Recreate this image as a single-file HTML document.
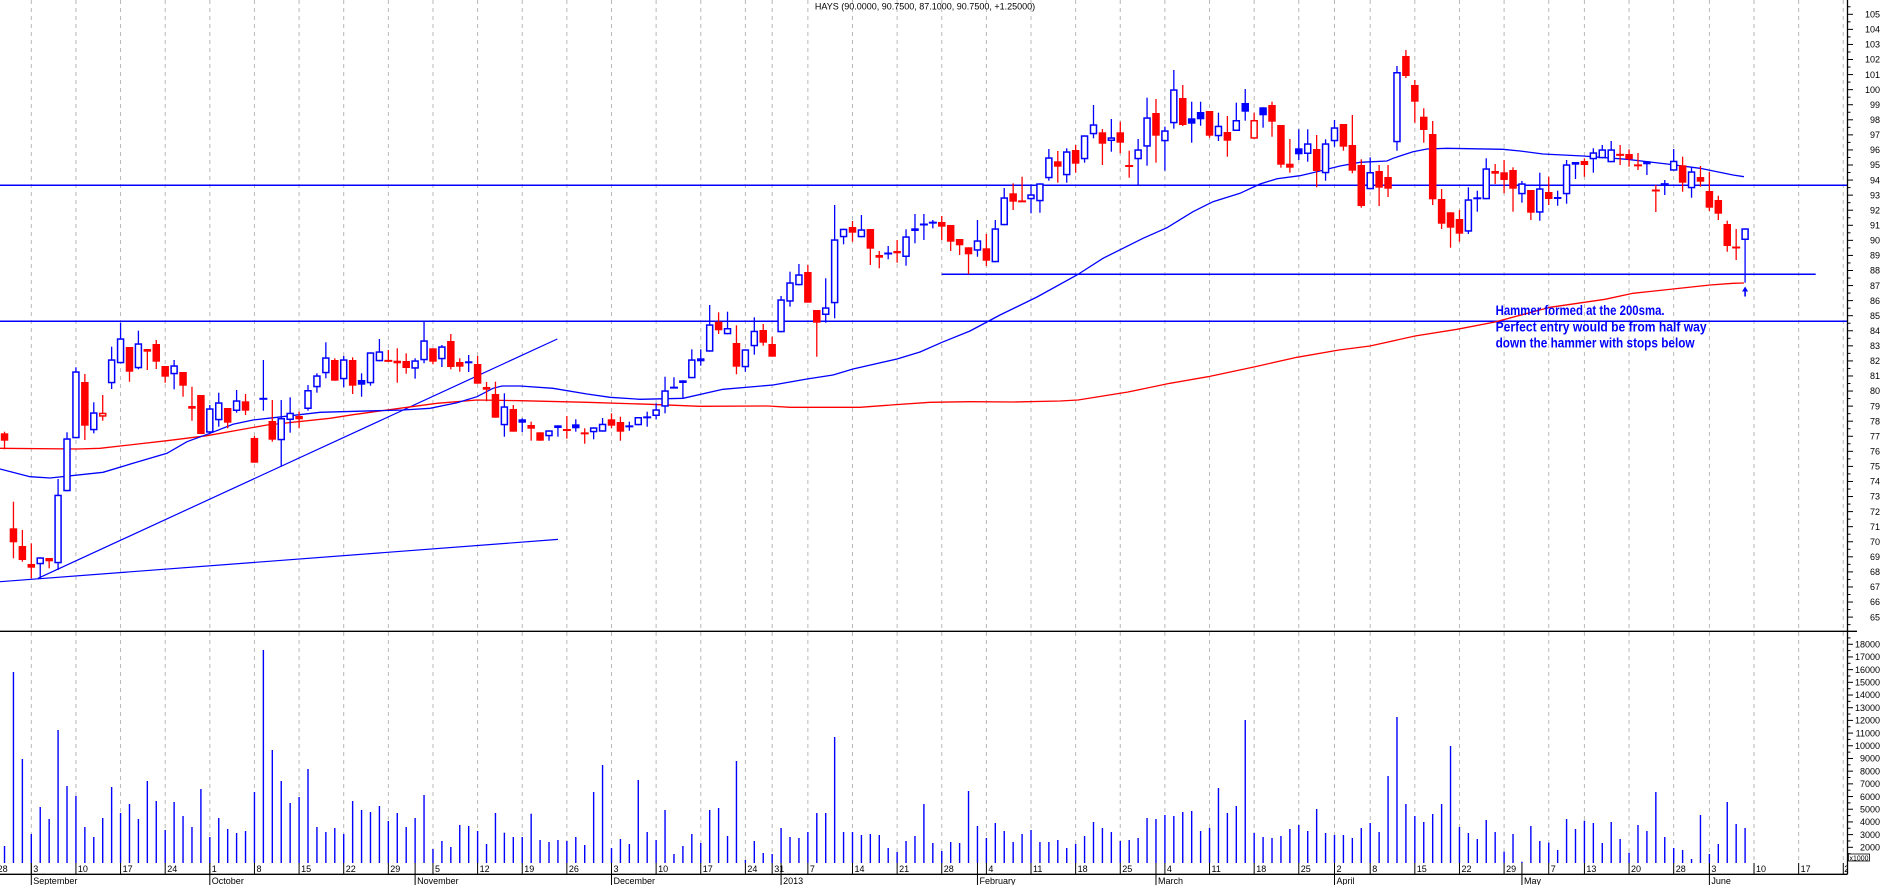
<!DOCTYPE html>
<html>
<head>
<meta charset="utf-8">
<style>
html,body{margin:0;padding:0;background:#fff;overflow:hidden;}
svg{display:block;}
text{font-family:"Liberation Sans",Arial,sans-serif;}
</style>
</head>
<body>
<svg id="c" xmlns="http://www.w3.org/2000/svg" width="1883" height="885" viewBox="0 0 1883 885">
<defs>
<clipPath id="clipL"><rect x="0" y="0" width="1847" height="885"/></clipPath>
</defs>
<rect width="1883" height="885" fill="#fff"/>
<g id="grid"></g>
<g id="lines"></g>
<g id="candles"></g>
<g id="vol"></g>
<g id="axes"></g>

<text x="925" y="9.5" font-size="9" text-anchor="middle" fill="#000">HAYS (90.0000, 90.7500, 87.1000, 90.7500, +1.25000)</text>

<g font-size="14" font-weight="bold" fill="#0000ff">
<text x="1495.6" y="315" textLength="169" lengthAdjust="spacingAndGlyphs">Hammer formed at the 200sma.</text>
<text x="1495.6" y="331.5" textLength="211" lengthAdjust="spacingAndGlyphs">Perfect entry would be from half way</text>
<text x="1495.6" y="347.5" textLength="199" lengthAdjust="spacingAndGlyphs">down the hammer with stops below</text>
</g>

<g font-size="9" text-anchor="end" fill="#000">
<text x="1880" y="17.5">105</text>
<text x="1880" y="32.6">104</text>
<text x="1880" y="47.6">103</text>
<text x="1880" y="62.7">102</text>
<text x="1880" y="77.8">101</text>
<text x="1880" y="92.9">100</text>
<text x="1880" y="107.9">99</text>
<text x="1880" y="123.0">98</text>
<text x="1880" y="138.1">97</text>
<text x="1880" y="153.1">96</text>
<text x="1880" y="168.2">95</text>
<text x="1880" y="183.3">94</text>
<text x="1880" y="198.3">93</text>
<text x="1880" y="213.4">92</text>
<text x="1880" y="228.5">91</text>
<text x="1880" y="243.6">90</text>
<text x="1880" y="258.6">89</text>
<text x="1880" y="273.7">88</text>
<text x="1880" y="288.8">87</text>
<text x="1880" y="303.8">86</text>
<text x="1880" y="318.9">85</text>
<text x="1880" y="334.0">84</text>
<text x="1880" y="349.0">83</text>
<text x="1880" y="364.1">82</text>
<text x="1880" y="379.2">81</text>
<text x="1880" y="394.2">80</text>
<text x="1880" y="409.3">79</text>
<text x="1880" y="424.4">78</text>
<text x="1880" y="439.5">77</text>
<text x="1880" y="454.5">76</text>
<text x="1880" y="469.6">75</text>
<text x="1880" y="484.7">74</text>
<text x="1880" y="499.7">73</text>
<text x="1880" y="514.8">72</text>
<text x="1880" y="529.9">71</text>
<text x="1880" y="544.9">70</text>
<text x="1880" y="560.0">69</text>
<text x="1880" y="575.1">68</text>
<text x="1880" y="590.1">67</text>
<text x="1880" y="605.2">66</text>
<text x="1880" y="620.3">65</text>

<text x="1880" y="647.5">18000</text>
<text x="1880" y="660.2">17000</text>
<text x="1880" y="672.9">16000</text>
<text x="1880" y="685.5">15000</text>
<text x="1880" y="698.2">14000</text>
<text x="1880" y="710.9">13000</text>
<text x="1880" y="723.6">12000</text>
<text x="1880" y="736.3">11000</text>
<text x="1880" y="749.0">10000</text>
<text x="1880" y="761.7">9000</text>
<text x="1880" y="774.4">8000</text>
<text x="1880" y="787.1">7000</text>
<text x="1880" y="799.8">6000</text>
<text x="1880" y="812.4">5000</text>
<text x="1880" y="825.1">4000</text>
<text x="1880" y="837.8">3000</text>
</g>
<text x="1880" y="850.5" font-size="9" text-anchor="end" fill="#000">2000</text>
<rect x="1848.5" y="854" width="21" height="7" fill="#fff" stroke="#000" stroke-width="0.8"/>
<text x="1849.5" y="860.3" font-size="7" fill="#000" textLength="19" lengthAdjust="spacingAndGlyphs">x1000</text>

<g font-size="9" fill="#000" clip-path="url(#clipL)">
<text x="-2.4" y="872">28</text>
<text x="33.3" y="872">3</text>
<text x="77.9" y="872">10</text>
<text x="122.6" y="872">17</text>
<text x="167.2" y="872">24</text>
<text x="211.8" y="872">1</text>
<text x="256.5" y="872">8</text>
<text x="301.1" y="872">15</text>
<text x="345.7" y="872">22</text>
<text x="390.3" y="872">29</text>
<text x="435.0" y="872">5</text>
<text x="479.6" y="872">12</text>
<text x="524.2" y="872">19</text>
<text x="568.9" y="872">26</text>
<text x="613.5" y="872">3</text>
<text x="658.1" y="872">10</text>
<text x="702.8" y="872">17</text>
<text x="747.4" y="872">24</text>
<text x="774.2" y="872">31</text>
<text x="809.9" y="872">7</text>
<text x="854.5" y="872">14</text>
<text x="899.1" y="872">21</text>
<text x="943.8" y="872">28</text>
<text x="988.4" y="872">4</text>
<text x="1033.0" y="872">11</text>
<text x="1077.6" y="872">18</text>
<text x="1122.3" y="872">25</text>
<text x="1166.9" y="872">4</text>
<text x="1211.5" y="872">11</text>
<text x="1256.2" y="872">18</text>
<text x="1300.8" y="872">25</text>
<text x="1336.5" y="872">2</text>
<text x="1372.2" y="872">8</text>
<text x="1416.8" y="872">15</text>
<text x="1461.5" y="872">22</text>
<text x="1506.1" y="872">29</text>
<text x="1550.7" y="872">7</text>
<text x="1586.4" y="872">13</text>
<text x="1631.0" y="872">20</text>
<text x="1675.7" y="872">28</text>
<text x="1711.4" y="872">3</text>
<text x="1756.0" y="872">10</text>
<text x="1800.6" y="872">17</text>
<text x="1844.3" y="872">2</text>

<text x="33.3" y="884">September</text>
<text x="211.8" y="884">October</text>
<text x="417.1" y="884">November</text>
<text x="613.5" y="884">December</text>
<text x="783.1" y="884">2013</text>
<text x="979.5" y="884">February</text>
<text x="1158.0" y="884">March</text>
<text x="1336.5" y="884">April</text>
<text x="1524.0" y="884">May</text>
<text x="1711.4" y="884">June</text>
</g>
</svg>

<script>
(function(){
var NS='http://www.w3.org/2000/svg';
function X(i){return 31.3+i*8.926;}
function el(tag,a,p){var e=document.createElementNS(NS,tag);for(var k in a)e.setAttribute(k,a[k]);p.appendChild(e);return e;}
var grid=document.getElementById('grid'),lines=document.getElementById('lines'),
    cg=document.getElementById('candles'),vg=document.getElementById('vol'),ax=document.getElementById('axes');

var weeks=[-4,0,5,10,15,20,25,30,35,40,45,50,55,60,65,70,75,80,83,87,92,97,102,107,112,117,122,127,132,137,142,146,150,155,160,165,170,174,179,184,188,193,198,203];
var months=[0,20,43,65,84,106,126,146,167,188];
weeks.forEach(function(i){
  var x=X(i);
  el('line',{x1:x,y1:0,x2:x,y2:863,stroke:'#b8b8b8','stroke-width':1,'stroke-dasharray':'4 4'},grid);
  el('line',{x1:x,y1:863,x2:x,y2:874,stroke:'#000','stroke-width':1},ax);
});
months.forEach(function(i){
  var x=X(i);
  el('line',{x1:x,y1:863,x2:x,y2:885,stroke:'#000','stroke-width':1},ax);
});

// axes lines
el('line',{x1:0,y1:631.3,x2:1857,y2:631.3,stroke:'#000','stroke-width':1.3},ax);
el('line',{x1:0,y1:874.3,x2:1847.5,y2:874.3,stroke:'#000','stroke-width':1.3},ax);
el('line',{x1:1847.5,y1:0,x2:1847.5,y2:874.3,stroke:'#000','stroke-width':1.3},ax);
function py(p){return 14.3+(105-p)*15.07;}
for(var p=64.5;p<=105.6;p+=0.5){
  var y=py(p);if(y<0||y>630)continue;
  var major=Math.abs(p-Math.round(p))<0.01;
  el('line',{x1:1847.5,y1:y,x2:major?1853:1850.5,y2:y,stroke:'#000','stroke-width':1},ax);
}
function vy(v){return 847.3-(v-2000)*0.01269;}
for(var v=1500;v<=18500;v+=500){
  var y2=vy(v);
  var mj=(v%1000)==0;
  el('line',{x1:1847.5,y1:y2,x2:mj?1853:1850.5,y2:y2,stroke:'#000','stroke-width':1},ax);
}

// horizontal lines
el('line',{x1:0,y1:185.3,x2:1847,y2:185.3,stroke:'#0000ff','stroke-width':1.5},lines);
el('line',{x1:0,y1:321.3,x2:1847,y2:321.3,stroke:'#0000ff','stroke-width':1.5},lines);
el('line',{x1:941.7,y1:274.2,x2:1815.7,y2:274.2,stroke:'#0000ff','stroke-width':1.5},lines);
// trend lines
el('line',{x1:38,y1:578.3,x2:557.3,y2:339,stroke:'#0000ff','stroke-width':1.2},lines);
el('line',{x1:0,y1:581.7,x2:558,y2:539.4,stroke:'#0000ff','stroke-width':1.2},lines);

var blue=[[0,469],[30,476.7],[50,478],[103,472.3],[133,463.3],[167,453.3],[187,441.7],[210,433.3],[233,424.3],[253,420],[277,417.3],[320,412.3],[403,410],[430,408.3],[457,402.7],[477,396.7],[493,388.3],[502,386],[520,386],[553,388.3],[587,394],[610,397.3],[640,399.3],[683,398.3],[723,389.3],[773,385],[807,379],[833,375],[853,369],[897,359],[920,352],[942,342.3],[970,331],[1000,315],[1037,297],[1077,275],[1103,258.3],[1143,238.3],[1167,227.7],[1193,211.7],[1213,201.7],[1240,193.3],[1260,184],[1277,178.7],[1300,175.7],[1320,171],[1340,166],[1360,162.3],[1387,161],[1393,158.3],[1413,151.7],[1427,149],[1447,148.3],[1503,149.3],[1520,151],[1543,154],[1583,156],[1627,159.3],[1667,164],[1700,168.3],[1733,175],[1744,176.7]];
var red=[[0,448.3],[77,449],[100,448.3],[167,440.7],[207,435.7],[267,425],[330,418.3],[353,414.7],[387,410],[407,407.3],[437,403.3],[477,400],[520,400.7],[587,402.3],[650,404.3],[700,406.3],[768,406],[790,407.3],[860,407.3],[887,405.3],[930,402.3],[970,401.7],[1013,402],[1060,401],[1078,400],[1128,392],[1170,383.3],[1208,376.7],[1255,366.7],[1297,357.3],[1339,350],[1370,346],[1415,336],[1457,329.3],[1495,322],[1550,307.3],[1605,299.3],[1633,293.3],[1673,289],[1710,285],[1733,283.3],[1744,283]];
function pl(pts,col){el('polyline',{points:pts.map(function(q){return q[0]+','+q[1];}).join(' '),fill:'none',stroke:col,'stroke-width':1.3},lines);}
pl(red,'#ff0000');pl(blue,'#0000ff');

var C=[
[-3,'R',433.3,440.7,431.7,449.3],[-2,'R',528.3,542.3,501.7,558.3],[-1,'R',546,560,530,561.7],[0,'R',564,567.7,543.3,578.3],
[1,'b',557.3,564.3,557.3,578.3],[2,'R',558,561.3,558,568.3],[3,'b',494.7,563.3,479,570],[4,'b',438.3,491.3,432.3,491.3],
[5,'b',371.3,438.3,367.3,438.3],[6,'R',382,425.7,374,440],[7,'b',412.3,430.3,402.3,433.3],[8,'r',412.7,416.7,395,420.7],
[9,'b',359.3,383.3,346.7,389],[10,'b',338.3,363.3,322.7,363.3],[11,'R',347,371.7,347,381.7],[12,'b',343.3,368.3,330.7,369.3],
[13,'R',349,351.7,349,370],[14,'R',344,361.7,340,369],[15,'R',366,376.7,366,382.7],[16,'b',365.3,374.3,360,389.3],
[17,'R',372,385.7,372,396.7],[18,'R',406,408.7,386.7,420.7],[19,'R',395,434,395,434],[20,'b',408.3,432.7,405,433.3],
[21,'b',402.3,420.3,392.7,426.7],[22,'R',408,422.7,408,428.3],[23,'b',400.3,411,390,412.7],[24,'R',401.3,410.7,394,415],
[25,'R',438,462.7,436,462.7],[26,'B',398.3,399.3,360,410.7],[27,'R',421,439.7,400,441.7],[28,'b',418,440.3,400,466.7],
[29,'b',412.7,420,397.3,432.7],[30,'R',416,419.3,411.7,428.3],[31,'b',390,409,385,410.7],[32,'b',375.3,387.3,373.3,392.7],
[33,'b',357.3,373.3,342.3,378.3],
[34,'R',360,380.7,358.3,380.7],[35,'b',359.3,379.3,356,387.3],[36,'R',360,385.7,357.3,394],[37,'B',380,384.7,373.3,396.7],
[38,'b',352.3,383.3,352.3,385.7],[39,'b',351.3,361.3,339,361.3],[40,'R',360,361.7,350,361.7],[41,'r',360.7,363.3,348.3,382.7],
[42,'R',361,368,353.3,373.7],[43,'b',360.3,368.7,358.3,378.7],[44,'b',340.3,360.3,321.7,363.3],[45,'R',348.3,361.7,348.3,364.3],
[46,'b',346.3,359.3,345,367],[47,'R',341,367,334,369.3],[48,'R',362,366.7,358.3,371.7],[49,'b',361.3,363.3,355,372],
[50,'R',364,383.7,356,383.7],[51,'R',387,389.7,382,401.3],[52,'R',394,417.7,381.7,417.7],[53,'b',406.3,425.3,393.3,436.7],
[54,'R',409,431.7,405,431.7],[55,'B',419.3,422.7,418.3,432],[56,'R',425,428.7,421.7,440.7],[57,'R',432.3,440.7,432.3,440.7],
[58,'b',430.3,436.3,430.3,440.7],[59,'b',425.3,428,425.3,436.7],[60,'R',429.3,430.7,416,438.7],[61,'B',424.3,428.3,419.3,431.7],
[62,'R',433,433.7,428.3,443.7],[63,'b',427.3,432.3,427.3,439.3],[64,'b',423.7,431.7,418,431.7],[65,'R',419.3,425.7,413.3,428.3],
[66,'R',422,431.7,416.7,440.7],[67,'B',426,426.7,421.7,430.7],[68,'b',417,425.3,417,425.3],[69,'B',417,417.7,411.7,426.7],
[70,'b',409.3,416,403.3,419.3],[71,'b',390.3,406.7,376.7,413.3],[72,'B',387.3,388,377.3,388.3],[73,'b',380.3,383,380.3,398.3],
[74,'b',359.3,378.3,349.3,378.3],[75,'b',358.3,361.3,349.3,365.7],[76,'b',324.3,351.7,305,351.7],[77,'R',321.7,330.3,312.3,334],
[78,'b',328,334.3,311.7,334.3],[79,'R',343,366.7,325.3,374.3],[80,'b',349.3,367.3,349.3,371.7],[81,'b',330.7,346.3,317.3,354.7],
[82,'R',330,342.7,324,345.7],[83,'R',344,356.7,336.7,356.7],[84,'b',299.3,332.3,296,332.3],[85,'b',282.3,301.7,271.7,306.7],
[86,'b',274.3,285.3,264,285.3],[87,'R',272,302.7,265,302.7],[88,'R',310,322.7,310,356.7],[89,'b',307.3,315,278.3,322.7],
[90,'b',239.3,303.3,205,318.3],[91,'b',228.7,237.3,228.7,244.3],[92,'R',227,232.7,221,241.7],[93,'b',229.3,237.3,215,237.3],
[94,'R',229,248.7,229,265],[95,'R',255,257.7,251,268.3],[96,'B',253,254,246,259.3],[97,'R',251,253.3,240,262.7],
[98,'b',236.3,257,229.3,265.7],[99,'b',228.3,231,214,243.3],[100,'B',224,225,214,240],[101,'B',222,223.3,220,228.3],
[102,'R',222,226.7,216,240],[103,'R',225,241.7,225,251],[104,'R',239,245.3,239,255],[105,'R',247.3,254.3,247.3,274.3],
[106,'b',240.3,250.7,220,256.7],[107,'R',248.3,260.7,234,266],[108,'b',228.3,262.3,220,262.3],[109,'b',197.3,225.3,188,225.3],
[110,'R',193.3,201.7,183.3,210],[111,'R',201,201.7,176.7,201.7],[112,'b',194.3,199.3,184.3,213.3],[113,'b',183.3,201.3,183.3,212.7],
[114,'b',157.3,178.3,149,180.7],[115,'R',161.3,166.7,151,182.7],[116,'b',151.3,175.3,148.3,182.7],[117,'R',150,163.7,145,172.7],
[118,'b',135.3,159.3,135.3,162.7],[119,'b',124.3,134.3,105,138.3],[120,'R',132.3,143.7,129,165],[121,'b',137.3,141,119,151.7],
[122,'R',132.3,142.7,121.7,153.3],[123,'R',165.7,166.3,150.7,177.7],[124,'b',149.3,159.3,139,185.3],[125,'b',117.3,146.7,97.7,165.7],
[126,'R',113,135.7,99,162.7],[127,'b',130.3,141.3,126.7,170.7],[128,'b',89.3,123.3,70,128.7],[129,'R',98,125,85,126],
[130,'B',118.3,123.7,101.7,142.7],[131,'B',112,119.3,101.7,125.7],[132,'R',111,135.7,111,137.7],[133,'b',125.7,136.3,112.7,141],
[134,'R',132,140.7,116,156.7],[135,'b',120,131,102.7,131],[136,'B',103,111.7,89,120.7],[137,'r',120,138.7,112.7,138.7],
[138,'B',107.3,115.3,107.3,127.7],[139,'R',105,121.7,101.7,136.7],[140,'R',125,164.7,125,167.7],[141,'R',163.7,167.7,139,172.7],
[142,'B',148.3,154.3,129.3,160],[143,'b',143.3,154,129.3,161.7],[144,'R',149,171,135,187.3],[145,'b',143.3,173.3,139.3,180.7],
[146,'b',127.3,141.3,120,146.7],[147,'R',124,146.7,124,150.7],[148,'R',145,170.7,115,173.3],[149,'R',165,206,159.3,207.7],
[150,'b',172,189.3,157.3,189.3],[151,'R',171,187.7,165,206],[152,'R',177,188.7,165,197],[153,'b',72,142.3,66,150.7],
[154,'R',56,76,50,78],[155,'R',85,101.7,80,122.7],[156,'R',116.7,130,108.3,142.7],[157,'R',134,199.3,121,205],
[158,'R',199,223.7,189,229],[159,'R',212.3,227.7,212.3,247.7],[160,'R',219,233.7,210,241.7],[161,'b',199.3,231.7,187.3,234],
[162,'B',197.8,198.8,190.7,211.7],[163,'b',168.3,199.3,158.3,199.3],[164,'R',171,173.7,164,184],[165,'R',172.3,180,160,193.3],
[166,'R',170,188.7,167.3,211.7],[167,'b',183.3,194.3,181,202.7],[168,'R',190,212.7,190,220],[169,'b',188.3,212.7,172.7,220.7],
[170,'R',192,199,176.7,205],[171,'B',197,199,190.7,205.7],[172,'b',164.3,194.3,160,203.7],[173,'B',162,164.7,162,179],
[174,'R',161,165,158.3,176.7],[175,'b',152.3,159.3,148.3,172.7],[176,'b',149.3,158.3,145,158.3],[177,'b',149.3,162.3,141,162.3],
[178,'R',154,155.7,145,165],[179,'R',154,159.3,149.3,166.7],[180,'R',165,165.7,153,170],[181,'B',161.3,164.3,161.3,175],
[182,'R',190.3,190.7,185,212],[183,'B',184,184.3,180,195],[184,'b',160.7,170.7,149,170.7],[185,'R',165.3,182.7,156.7,191.7],
[186,'b',171.3,188.3,166.7,197.7],[187,'R',177,181.7,166,186.7],[188,'R',191,207.7,172,211],[189,'R',200,213.7,195.7,220],
[190,'R',224,246,220.7,251.7],[191,'R',247.3,247.7,229,260],[192,'b',228.3,240,228.3,282.7]
];
C.forEach(function(c){
  var x=X(c[0]),t=c[1],bt=c[2],bb=c[3],wt=c[4],wb=c[5];
  var col=(t=='R'||t=='r')?'#ff0000':'#0000ff';
  var filled=(t=='R'||t=='B');
  el('line',{x1:x,y1:wt,x2:x,y2:wb,stroke:col,'stroke-width':1.3},cg);
  if(bb-bt<2){
    var m=(bt+bb)/2;
    el('line',{x1:x-4,y1:m,x2:x+4,y2:m,stroke:col,'stroke-width':2},cg);
  } else if(filled){
    el('rect',{x:x-3.75,y:bt,width:7.5,height:bb-bt,fill:col},cg);
  } else {
    el('rect',{x:x-3,y:bt+0.75,width:6,height:Math.max(0.5,bb-bt-1.5),fill:'#fff',stroke:col,'stroke-width':1.5},cg);
  }
});

// arrow under hammer
var ax0=X(192);
el('polygon',{points:(ax0)+',286.5 '+(ax0-3)+',291.5 '+(ax0+3)+',291.5',fill:'#0000ff'},cg);
el('line',{x1:ax0,y1:290,x2:ax0,y2:296.5,stroke:'#0000ff','stroke-width':1.6},cg);

var V=[846,672,759,834,807,819,730,786,796,827,837,818,787,813,804,819,781,801,830,802,816,827,789,837,818,829,833,831,792,650,750,781,803,797,769,827,832,828,834,801,810,812,806,821,813,827,818,795,849,841,847,825,826,831,844,813,
832.7,837,837,813.7,840,842,840,841,837,845,792,765,848,839,844,780,832,840,810,854,846,834,843,810,808,836,761,860,841,853,854,828,837,838,832,813,813,737,832,832,835,834,835,848,852,841,836,804,843,851,842,843,791,826,838,
823,831,842,834,830,842,842,840,848,844,836,822,828,832,841,840,838,818,819,815,816,812,811,831,828,788,813,806,720,833,837,838,836,829,825,831,809,833,835,835,838,828,823,832,776,717,804,816,822,814,804,746,827,833,839,820,832,
851.7,834,861.7,826,841,842.7,850,819,829,820.7,823,843,822,839,852.7,825,831,792,837,848,850,859,815,854,844,802,824,828];
for(var k=0;k<V.length;k++){
  var xi=X(k-3);
  el('line',{x1:xi,y1:V[k],x2:xi,y2:863,stroke:'#0000ff','stroke-width':1.4},vg);
}
})();
</script>
</body>
</html>
